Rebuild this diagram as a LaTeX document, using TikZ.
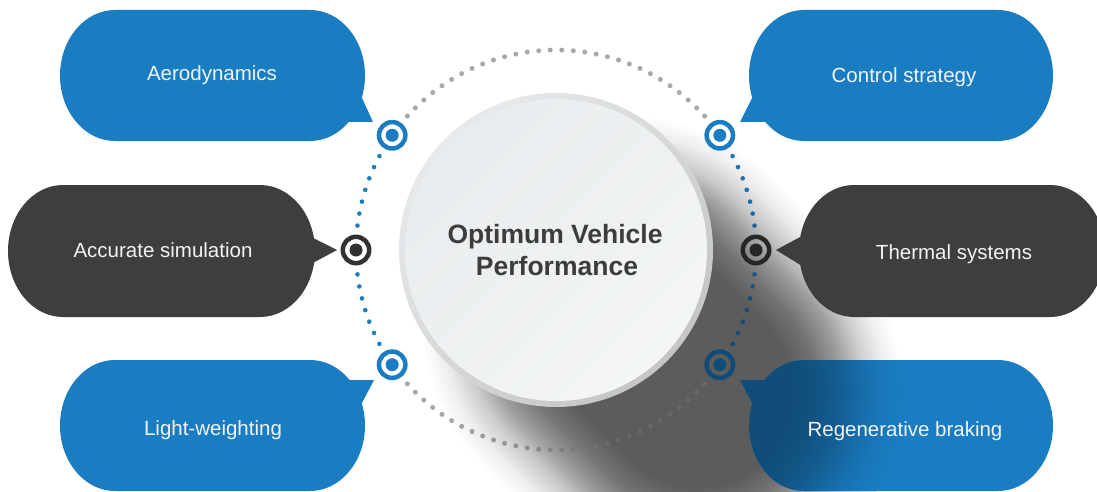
\documentclass[tikz,border=0pt]{standalone}
\usepackage{fontspec}
\setmainfont{Liberation Sans}
\definecolor{bblue}{RGB}{26,124,193}
\definecolor{bdark}{RGB}{63,62,61}
\definecolor{mdark}{RGB}{50,49,48}
\definecolor{dgray}{RGB}{167,168,170}
\definecolor{titlec}{RGB}{60,60,60}
\definecolor{rimlight}{RGB}{232,233,234}
\definecolor{rimdark}{RGB}{196,197,199}
\definecolor{facea}{RGB}{233,236,238}
\definecolor{faceb}{RGB}{243,245,246}
\definecolor{labelc}{RGB}{240,244,248}
% blurred capsule shadow: radial caps and a band across its axis (path box = central 50bp)
\pgfdeclareradialshading{capgray}{\pgfpointorigin}{%
  color(0bp)=(white!36!black); color(11.6bp)=(white!36!black); color(14.6bp)=(white!45!black);
  color(17.7bp)=(white!62!black); color(20.1bp)=(white!80!black); color(22.6bp)=(white!93!black);
  color(25bp)=(white); color(50bp)=(white)}
\pgfdeclareverticalshading{bandgray}{100bp}{%
  color(0bp)=(white); color(25bp)=(white); color(27.4bp)=(white!93!black);
  color(29.9bp)=(white!80!black); color(32.3bp)=(white!62!black); color(35.4bp)=(white!45!black);
  color(38.4bp)=(white!36!black); color(61.6bp)=(white!36!black); color(64.6bp)=(white!45!black);
  color(67.7bp)=(white!62!black); color(70.1bp)=(white!80!black); color(72.6bp)=(white!93!black);
  color(75bp)=(white); color(100bp)=(white)}
\pgfdeclareradialshading{capblue}{\pgfpointorigin}{%
  color(0bp)=(bblue!62!black); color(11.6bp)=(bblue!62!black); color(14.6bp)=(bblue!67!black);
  color(17.7bp)=(bblue!77!black); color(20.1bp)=(bblue!88!black); color(22.6bp)=(bblue!96!black);
  color(25bp)=(bblue); color(50bp)=(bblue)}
\pgfdeclareverticalshading{bandblue}{100bp}{%
  color(0bp)=(bblue); color(25bp)=(bblue); color(27.4bp)=(bblue!96!black);
  color(29.9bp)=(bblue!88!black); color(32.3bp)=(bblue!77!black); color(35.4bp)=(bblue!67!black);
  color(38.4bp)=(bblue!62!black); color(61.6bp)=(bblue!62!black); color(64.6bp)=(bblue!67!black);
  color(67.7bp)=(bblue!77!black); color(70.1bp)=(bblue!88!black); color(72.6bp)=(bblue!96!black);
  color(75bp)=(bblue); color(100bp)=(bblue)}
\newcommand{\capsuleshadow}[2]{%
  \begin{scope}[transform canvas={shift={(626.7,170.3)},rotate=-45}]
    \begin{scope}
      \clip (-210,-210) rectangle (0,210);
      \shade[shading=#1] (0,0) circle[radius=205];
    \end{scope}
    \begin{scope}
      \clip (100,-210) rectangle (310,210);
      \shade[shading=#1] (100,0) circle[radius=205];
    \end{scope}
    \shade[shading=#2] (-1,-205) rectangle (101,205);
  \end{scope}}
% darkening factor of an item on the ring at angle #1
\newcommand{\shfactor}[1]{%
  \pgfmathsetmacro\shS{(20*cos(#1)-20*sin(#1))/1.41421}%
  \pgfmathsetmacro\shT{(20*cos(#1)+20*sin(#1))/1.41421}%
  \pgfmathsetmacro\shE{max(0,max(10-\shS,\shS-20))}%
  \pgfmathsetmacro\shD{10*sqrt(\shE*\shE+\shT*\shT)}%
  \pgfmathsetmacro\shP{100*(0.4+0.6*min(1,0.36+max(0,\shD-95)*0.0058))}}
\newcommand{\shdot}[3]{\shfactor{#1}\fill[#2!\shP!black] (#1:200) circle[radius=#3];}
\newcommand{\shmark}[2]{\shfactor{#1}%
  \draw[#2!\shP!black, line width=4.5] (#1:200) circle[radius=13.2];
  \fill[#2!\shP!black] (#1:200) circle[radius=6.5];}
\tikzset{
  lbl/.style={text=labelc, font=\fontsize{20.5}{24}\selectfont, anchor=base, inner sep=0pt},
  ttl/.style={text=titlec, font=\bfseries\fontsize{26.5}{32}\selectfont, anchor=base, inner sep=0pt},
}
\begin{document}
\begin{tikzpicture}[x=1pt,y=1pt]
\useasboundingbox (0,0) rectangle (1097,491);
\fill[white] (0,0) rectangle (1097,491);

% cast shadow of the central disc
\capsuleshadow{capgray}{bandgray}

% ring of dots and markers
\begin{scope}[shift={(556,241)}]
  \foreach \i in {0,...,29} {
    \pgfmathsetmacro\aa{42+\i*96/29}\shdot{\aa}{dgray}{2.5}
    \pgfmathsetmacro\aa{222+\i*96/29}\shdot{\aa}{dgray}{2.5}
  }
  \foreach \i in {0,...,6} {
    \pgfmathsetmacro\aa{152+\i*3.5}\shdot{\aa}{bblue}{2.3}
    \pgfmathsetmacro\aa{187+\i*3.5}\shdot{\aa}{bblue}{2.3}
    \pgfmathsetmacro\aa{-28+\i*3.5}\shdot{\aa}{bblue}{2.3}
    \pgfmathsetmacro\aa{7+\i*3.5}\shdot{\aa}{bblue}{2.3}
  }
  \foreach \a/\c in {35/bblue,145/bblue,215/bblue,325/bblue,0/mdark,180/mdark} {
    \shmark{\a}{\c}
  }
\end{scope}

% bubbles
% Aerodynamics
\fill[bblue] (115,481) -- (310,481) arc[start angle=90,end angle=-90,x radius=55pt,y radius=65.5pt]
  -- (115,350) arc[start angle=270,end angle=90,x radius=55pt,y radius=65.5pt] -- cycle;
\fill[bblue] (373,369) -- (362,393) -- (330,391) -- (330,369) -- cycle;
% Control strategy
\fill[bblue] (804,481) -- (998,481) arc[start angle=90,end angle=-90,x radius=55pt,y radius=65.5pt]
  -- (804,350) arc[start angle=270,end angle=90,x radius=55pt,y radius=65.5pt] -- cycle;
\fill[bblue] (740,369) -- (752,393) -- (785,391) -- (785,369) -- cycle;
% Accurate simulation
\fill[bdark] (63,306) -- (260,306) arc[start angle=90,end angle=-90,x radius=55pt,y radius=66pt]
  -- (63,174) arc[start angle=270,end angle=90,x radius=55pt,y radius=66pt] -- cycle;
\fill[bdark] (337,241) -- (311,254) -- (290,241) -- (311,227) -- cycle;
% Thermal systems
\fill[bdark] (854,306) -- (1050,306) arc[start angle=90,end angle=-90,x radius=55pt,y radius=66pt]
  -- (854,174) arc[start angle=270,end angle=90,x radius=55pt,y radius=66pt] -- cycle;
\fill[bdark] (776,241) -- (802,255) -- (825,241) -- (802,225) -- cycle;
% Light-weighting
\fill[bblue] (115,131) -- (310,131) arc[start angle=90,end angle=-90,x radius=55pt,y radius=65.5pt]
  -- (115,0) arc[start angle=270,end angle=90,x radius=55pt,y radius=65.5pt] -- cycle;
\fill[bblue] (374,111) -- (330,111) -- (330,91) -- (362,88) -- cycle;
% Regenerative braking (partly in the shadow)
\begin{scope}
  \clip (804,131) -- (998,131) arc[start angle=90,end angle=-90,x radius=55pt,y radius=65.5pt]
    -- (804,0) arc[start angle=270,end angle=90,x radius=55pt,y radius=65.5pt] -- cycle
    (740,111) -- (785,111) -- (785,91) -- (752,88) -- cycle;
  \fill[bblue] (700,-10) rectangle (1097,140);
  \capsuleshadow{capblue}{bandblue}
\end{scope}

% central disc
\shade[top color=rimlight, bottom color=rimdark, shading angle=45] (556,241) circle[radius=157];
\shade[top color=facea, bottom color=faceb, shading angle=45] (556,241) circle[radius=151];

% texts
\node[ttl] (t1) at (555,248) {Optimum Vehicle};
\node[ttl] (t2) at (557,216) {Performance};
\node[lbl] (aero) at (212,410) {Aerodynamics};
\node[lbl] (ctrl) at (904,408) {Control strategy};
\node[lbl] (accu) at (163,234) {Accurate simulation};
\node[lbl] (therm) at (954,232) {Thermal systems};
\node[lbl] (light) at (213,56) {Light-weighting};
\node[lbl] (regen) at (905,55) {Regenerative braking};
\end{tikzpicture}
\end{document}
